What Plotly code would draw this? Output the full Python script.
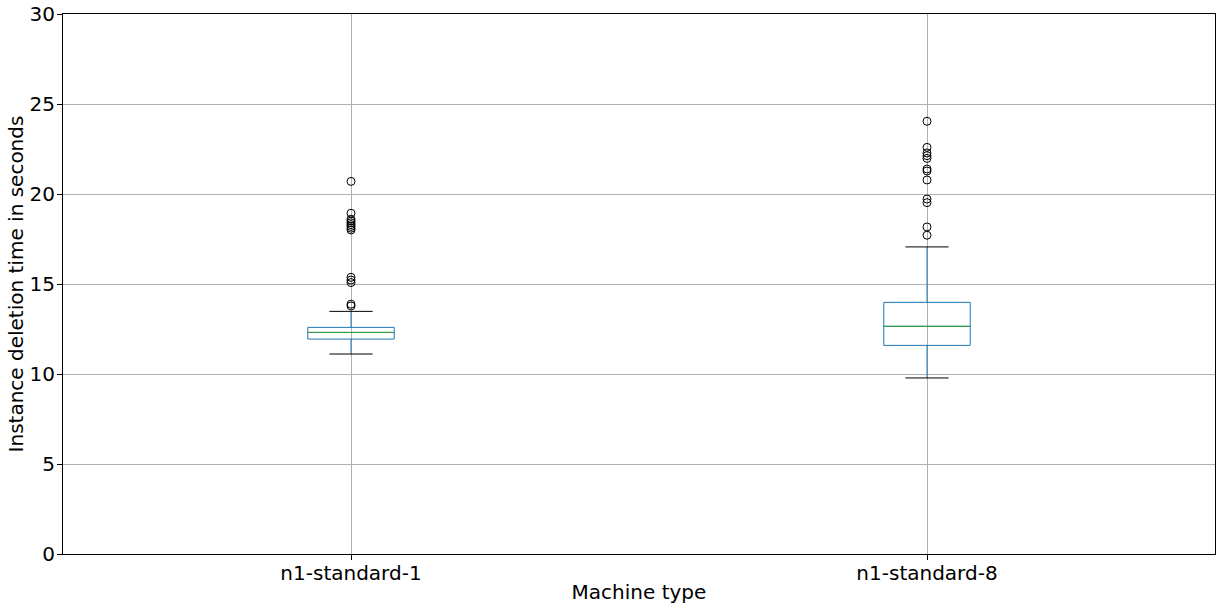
import plotly.graph_objects as go

machines = ["n1-standard-1", "n1-standard-8"]
positions = [1, 2]

q1 = [11.94, 11.59]
median = [12.31, 12.65]
q3 = [12.59, 13.98]
lower_whisker = [11.11, 9.78]
upper_whisker = [13.48, 17.06]

outliers = [
    [20.7, 18.93, 18.6, 18.5, 18.4, 18.3, 18.2, 18.1, 18.0,
     15.37, 15.22, 15.08, 13.88, 13.78],
    [24.04, 22.59, 22.28, 22.13, 21.98, 21.39, 21.28, 20.78,
     19.72, 19.52, 18.17, 17.71],
]

BOX_W = 0.15
FONT = "DejaVu Sans"

fig = go.Figure()

for pos, a, m, b, lo, hi, out in zip(positions, q1, median, q3, lower_whisker, upper_whisker, outliers):
    fig.add_trace(go.Box(
        x=[pos], q1=[a], median=[m], q3=[b], lowerfence=[lo], upperfence=[hi],
        width=BOX_W, whiskerwidth=0, boxpoints=False,
        fillcolor="rgba(0,0,0,0)", line={"color": "#1f77b4", "width": 1},
        hoverinfo="skip",
    ))
    # median line in green
    fig.add_trace(go.Scatter(
        x=[pos - BOX_W / 2, pos + BOX_W / 2], y=[m, m], mode="lines",
        line={"color": "#2ca02c", "width": 1}, hoverinfo="skip",
    ))
    # black caps
    for yv in (lo, hi):
        fig.add_trace(go.Scatter(
            x=[pos - BOX_W / 4, pos + BOX_W / 4], y=[yv, yv], mode="lines",
            line={"color": "black", "width": 1}, hoverinfo="skip",
        ))
    fig.add_trace(go.Scatter(
        x=[pos] * len(out), y=out, mode="markers",
        marker={"symbol": "circle-open", "size": 8, "color": "black", "line": {"width": 1}},
    ))

axis_common = dict(
    showline=True, linecolor="black", linewidth=1, mirror=True,
    showgrid=True, gridcolor="#b0b0b0", gridwidth=1, zeroline=False,
    ticks="outside", ticklen=5, tickcolor="black", automargin=False,
    tickfont={"family": FONT, "size": 20, "color": "black"},
)

fig.update_layout(
    width=1222, height=610,
    paper_bgcolor="white", plot_bgcolor="white",
    margin={"l": 63, "r": 7, "t": 14, "b": 56},
    showlegend=False,
    font={"family": FONT, "color": "black"},
    xaxis=dict(axis_common, range=[0.5, 2.5], tickvals=positions, ticktext=machines,
               ticklabelstandoff=-4,
               title={"text": "Machine type", "font": {"family": FONT, "size": 20}, "standoff": 0}),
    yaxis=dict(axis_common, range=[0, 30], tickvals=[0, 5, 10, 15, 20, 25, 30],
               ticklabelstandoff=-2,
               title={"text": "Instance deletion time in seconds", "font": {"family": FONT, "size": 20}, "standoff": 0}),
)

fig.write_html(
    "out.html",
    config={"displayModeBar": False},
    post_script="document.body.style.margin='0';document.body.style.overflow='hidden';",
)
